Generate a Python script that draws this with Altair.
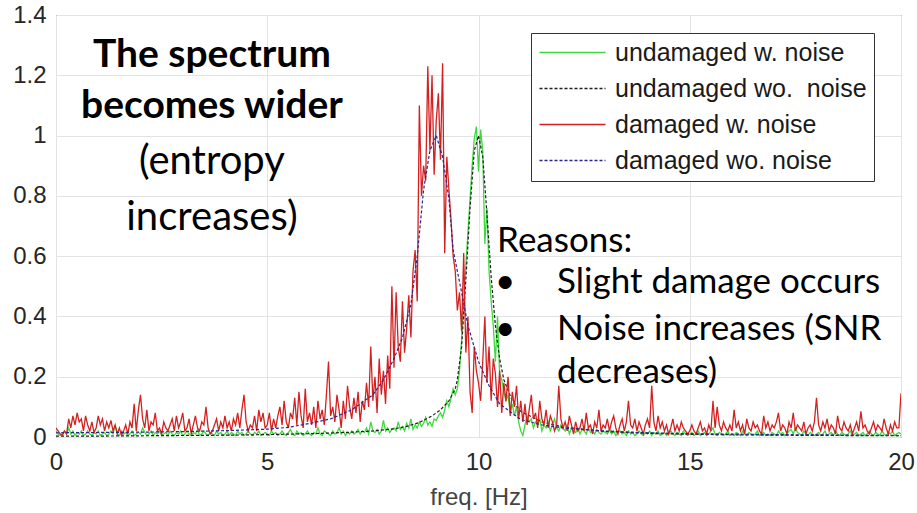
import altair as alt
import pandas as pd

# ---------------- data ----------------
FREQ_STEP = 0.05  # spacing of the noisy spectra (Hz)

damaged_noise = (
    [0.03,0.02,0.01,0.005,0.02,0.01,0.06,0.03,0.07,0.04,0.08,0.05,0.06,0.02,0.07,0.04,0.02,0.05,0.015,0.03]
    + [0.07,0.04,0.06,0.02,0.05,0.03,0.055,0.02,0.04,0.01,0.03,0.005,0.02,0.04,0.01,0.05,0.03,0.11,0.02,0.09]
    + [0.14,0.06,0.03,0.09,0.02,0.05,0.04,0.08,0.02,0.03,0.01,0.05,0.03,0.02,0.04,0.06,0.02,0.07,0.03,0.05]
    + [0.08,0.02,0.03,0.06,0.01,0.04,0.07,0.03,0.02,0.05,0.04,0.10,0.03,0.01,0.02,0.04,0.06,0.02,0.05,0.03]
    + [0.07,0.03,0.05,0.02,0.06,0.04,0.08,0.03,0.09,0.14,0.05,0.02,0.04,0.03,0.07,0.02,0.09,0.05,0.08,0.03]
    + [0.04,0.08,0.02,0.06,0.03,0.07,0.10,0.04,0.12,0.05,0.03,0.08,0.06,0.13,0.04,0.15,0.07,0.03,0.16,0.05]
    + [0.08,0.04,0.10,0.03,0.12,0.06,0.09,0.04,0.14,0.25,0.07,0.10,0.05,0.14,0.09,0.03,0.12,0.06,0.17,0.10]
    + [0.06,0.13,0.08,0.15,0.05,0.12,0.09,0.18,0.10,0.30,0.12,0.20,0.08,0.26,0.14,0.22,0.11,0.27,0.16,0.50]
    + [0.23,0.48,0.30,0.25,0.45,0.28,0.36,0.47,0.33,0.55,0.62,0.45,1.10,0.80,0.90,0.85,1.23,0.95,1.20,0.87]
    + [1.05,1.14,0.92,1.24,0.61,0.93,0.82,0.72,0.60,0.55,0.42,0.48,0.35,0.61,0.28,0.40,0.15,0.08,0.30,0.22]
    + [0.18,0.12,0.25,0.40,0.18,0.30,0.12,0.26,0.21,0.10,0.22,0.08,0.18,0.12,0.20,0.07,0.15,0.10,0.17,0.06]
    + [0.12,0.05,0.11,0.04,0.09,0.14,0.06,0.08,0.03,0.12,0.06,0.04,0.09,0.03,0.07,0.05,0.02,0.04,0.17,0.06]
    + [0.03,0.05,0.02,0.07,0.04,0.01,0.05,0.02,0.03,0.06,0.02,0.08,0.03,0.04,0.01,0.05,0.03,0.09,0.02,0.04]
    + [0.03,0.06,0.02,0.05,0.07,0.03,0.01,0.04,0.06,0.02,0.05,0.12,0.04,0.03,0.06,0.02,0.05,0.03,0.01,0.04]
    + [0.06,0.03,0.17,0.05,0.02,0.07,0.03,0.05,0.02,0.04,0.01,0.03,0.06,0.02,0.04,0.02,0.05,0.03,0.02,0.01]
    + [0.02,0.04,0.02,0.01,0.03,0.05,0.02,0.03,0.01,0.04,0.02,0.12,0.03,0.10,0.04,0.02,0.05,0.03,0.02,0.04]
    + [0.02,0.09,0.03,0.05,0.02,0.04,0.01,0.06,0.03,0.02,0.05,0.03,0.04,0.02,0.01,0.07,0.03,0.05,0.02,0.04]
    + [0.03,0.05,0.08,0.02,0.04,0.03,0.01,0.05,0.03,0.08,0.02,0.04,0.03,0.02,0.05,0.01,0.03,0.04,0.02,0.05]
    + [0.13,0.04,0.02,0.05,0.03,0.06,0.02,0.04,0.03,0.01,0.07,0.03,0.02,0.05,0.03,0.02,0.04,0.01,0.03,0.05]
    + [0.02,0.085,0.03,0.04,0.02,0.01,0.03,0.05,0.02,0.04,0.03,0.02,0.06,0.03,0.01,0.04,0.02,0.05,0.03,0.03]
    + [0.145]
)

undamaged_noise = (
    [0.02,0.01,0.005,0.01,0.02,0.01,0.03,0.01,0.02,0.005,0.015,0.01,0.02,0.005,0.01,0.02,0.01,0.005,0.015,0.01]
    + [0.02,0.005,0.01,0.015,0.005,0.01,0.02,0.01,0.04,0.01,0.005,0.02,0.01,0.015,0.005,0.01,0.02,0.005,0.01,0.015]
    + [0.01,0.03,0.015,0.005,0.01,0.02,0.005,0.015,0.01,0.02,0.005,0.01,0.015,0.005,0.02,0.01,0.005,0.015,0.01,0.02]
    + [0.005,0.01,0.02,0.01,0.005,0.015,0.01,0.025,0.005,0.01,0.02,0.01,0.005,0.015,0.01,0.005,0.02,0.01,0.015,0.005]
    + [0.01,0.02,0.005,0.015,0.01,0.005,0.02,0.01,0.015,0.005,0.01,0.02,0.01,0.005,0.015,0.01,0.02,0.005,0.01,0.015]
    + [0.01,0.005,0.02,0.01,0.015,0.005,0.01,0.02,0.01,0.005,0.015,0.025,0.01,0.005,0.02,0.01,0.015,0.005,0.01,0.02]
    + [0.01,0.005,0.015,0.01,0.03,0.01,0.005,0.02,0.015,0.01,0.005,0.02,0.01,0.015,0.03,0.01,0.02,0.005,0.015,0.01]
    + [0.02,0.01,0.015,0.025,0.01,0.02,0.015,0.03,0.01,0.05,0.02,0.015,0.025,0.01,0.02,0.055,0.02,0.03,0.015,0.025]
    + [0.03,0.02,0.05,0.025,0.035,0.02,0.045,0.03,0.06,0.025,0.04,0.03,0.05,0.035,0.045,0.065,0.04,0.05,0.035,0.06]
    + [0.055,0.07,0.08,0.065,0.09,0.12,0.10,0.13,0.16,0.14,0.16,0.22,0.32,0.45,0.57,0.68,0.79,0.90,0.99,1.03]
    + [0.88,1.02,0.95,0.64,0.76,0.55,0.45,0.37,0.25,0.40,0.21,0.19,0.15,0.12,0.14,0.08,0.11,0.07,0.10,0.05]
    + [0.02,0.005,0.04,0.07,0.05,0.06,0.03,0.05,0.04,0.06,0.02,0.04,0.03,0.05,0.02,0.04,0.06,0.03,0.02,0.04]
    + [0.03,0.02,0.04,0.01,0.03,0.02,0.015,0.03,0.01,0.025,0.02,0.01,0.03,0.015,0.02,0.01,0.025,0.015,0.01,0.02]
    + [0.015,0.01,0.025,0.01,0.02,0.005,0.015,0.02,0.01,0.015,0.005,0.02,0.01,0.015,0.005,0.01,0.02,0.01,0.005,0.015]
    + [0.01,0.02,0.005,0.015,0.01,0.02,0.005,0.01,0.015,0.005,0.01,0.02,0.01,0.005,0.015,0.01,0.005,0.02,0.01,0.005]
    + [0.01,0.015,0.005,0.01,0.02,0.005,0.01,0.015,0.005,0.01,0.02,0.03,0.01,0.005,0.015,0.01,0.005,0.01,0.02,0.005]
    + [0.01,0.005,0.015,0.01,0.005,0.02,0.01,0.005,0.015,0.01,0.005,0.01,0.02,0.005,0.01,0.015,0.005,0.01,0.005,0.015]
    + [0.01,0.005,0.02,0.01,0.015,0.005,0.01,0.02,0.025,0.01,0.03,0.015,0.01,0.005,0.02,0.01,0.005,0.015,0.01,0.005]
    + [0.01,0.015,0.005,0.01,0.02,0.005,0.01,0.015,0.005,0.02,0.01,0.005,0.015,0.01,0.005,0.01,0.02,0.005,0.01,0.015]
    + [0.005,0.01,0.015,0.005,0.01,0.02,0.01,0.005,0.015,0.01,0.005,0.02,0.01,0.005,0.015,0.01,0.02,0.005,0.01,0.015]
    + [0.01]
)

# noise-free spectra, read at selected frequencies
undamaged_clean_f = [0, 1, 2, 3, 4, 5, 6, 6.5, 7, 7.5, 8, 8.3, 8.6, 8.9, 9.1, 9.3, 9.45, 9.5, 9.6, 9.7,
                     9.8, 9.9, 10.0, 10.1, 10.2, 10.3, 10.4, 10.5, 10.6, 10.8, 11.0, 11.5, 12, 13, 14, 15, 17, 20]
undamaged_clean_a = [0.003, 0.003, 0.004, 0.005, 0.006, 0.008, 0.011, 0.013, 0.016, 0.02, 0.027, 0.035, 0.048,
                     0.07, 0.09, 0.12, 0.16, 0.19, 0.30, 0.52, 0.76, 0.95, 1.0, 0.93, 0.74, 0.53, 0.37, 0.26,
                     0.19, 0.12, 0.085, 0.05, 0.033, 0.018, 0.012, 0.009, 0.006, 0.004]

damaged_clean_f = [0, 1, 2, 3, 4, 5, 5.5, 6, 6.5, 7, 7.5, 7.75, 8, 8.2, 8.4, 8.55, 8.7, 8.85, 9.0, 9.15, 9.3,
                   9.4, 9.6, 9.75, 10.0, 10.25, 10.5, 11.0, 11.5, 12, 13, 14, 15, 17, 20]
damaged_clean_a = [0.014, 0.015, 0.016, 0.018, 0.021, 0.026, 0.032, 0.045, 0.06, 0.09, 0.14, 0.19, 0.26, 0.33,
                   0.44, 0.60, 0.82, 0.95, 1.0, 0.93, 0.79, 0.62, 0.48, 0.37, 0.25, 0.17, 0.11, 0.058, 0.04,
                   0.03, 0.02, 0.014, 0.011, 0.008, 0.005]

assert len(damaged_noise) == 401, len(damaged_noise)
assert len(undamaged_noise) == 401, len(undamaged_noise)

series_names = ["undamaged w. noise", "undamaged wo.\u00a0 noise", "damaged w. noise", "damaged wo. noise"]
series_colors = ["#3fd83f", "#1e1e1e", "#d42020", "#262690"]
series_dash = [[1, 0], [3, 2], [1, 0], [3, 2]]
series_width = [1.3, 1.2, 1.3, 1.2]

x_ticks = [0, 5, 10, 15, 20]
y_ticks = [0, 0.2, 0.4, 0.6, 0.8, 1.0, 1.2, 1.4]

noise_f = [round(i * FREQ_STEP, 2) for i in range(len(damaged_noise))]
series_data = [
    (series_names[0], noise_f, undamaged_noise),
    (series_names[1], undamaged_clean_f, undamaged_clean_a),
    (series_names[2], noise_f, damaged_noise),
    (series_names[3], damaged_clean_f, damaged_clean_a),
]
rows = []
for name, fs, amps in series_data:
    for f, a in zip(fs, amps):
        rows.append({"f": f, "a": a, "s": name})
df = pd.DataFrame(rows)

# annotations (positions in data units)
left_lines = ["The spectrum", "becomes wider", "(entropy", "increases)"]
left_y = [1.228, 1.058, 0.872, 0.687]
left_bold = [True, True, False, False]
left_x = 3.69

reason_title = "Reasons:"
reason_lines = ["Slight damage occurs", "Noise increases (SNR", "decreases)"]
reason_y = [0.477, 0.322, 0.178]
bullet_y = [0.477, 0.322]

# ---------------- chart ----------------
xscale = alt.Scale(domain=[0, 20], nice=False, zero=False)
yscale = alt.Scale(domain=[0, 1.4], nice=False)

legend = alt.Legend(
    title=None, orient="none", legendX=475, legendY=18,
    symbolType="M-1,0H5", symbolSize=484, symbolStrokeWidth=1.4,
    labelFont="Liberation Sans", labelFontSize=25, labelColor="#1a1a1a", labelLimit=500,
    labelOffset=52, rowPadding=10, padding=7,
    strokeColor="#333333", fillColor="white",
)

xenc = alt.X("f:Q", scale=xscale,
             axis=alt.Axis(values=x_ticks, title="freq. [Hz]", grid=True, domain=False, ticks=False,
                           labelFlush=False,
                           labelFont="Liberation Sans", labelFontSize=24, labelColor="#262626",
                           labelPadding=13, titleFont="Liberation Sans", titleFontSize=24,
                           titleFontWeight="normal", titleColor="#444444", titlePadding=11,
                           gridColor="#e3e3e3"))
yenc = alt.Y("a:Q", scale=yscale,
             axis=alt.Axis(values=y_ticks, title=None, format="~g", grid=True, domain=False, ticks=False,
                           labelFlush=False,
                           labelFont="Liberation Sans", labelFontSize=24, labelColor="#262626",
                           labelPadding=10, gridColor="#e3e3e3"))

base = alt.Chart(df)
layers = []
for name, w in zip(series_names, series_width):
    layers.append(
        base.transform_filter(alt.datum.s == name)
        .mark_line(strokeWidth=w, clip=True)
        .encode(
            x=xenc, y=yenc,
            color=alt.Color("s:N", scale=alt.Scale(domain=series_names, range=series_colors), legend=legend),
            strokeDash=alt.StrokeDash("s:N", scale=alt.Scale(domain=series_names, range=series_dash),
                                      legend=legend),
        )
    )

left_df = pd.DataFrame({"f": [left_x] * 4, "a": left_y, "t": left_lines, "b": left_bold})
left_bold_txt = alt.Chart(left_df[left_df.b]).mark_text(
    font="Lato", fontSize=39, fontWeight="bold", align="center", baseline="alphabetic", color="black"
).encode(x=alt.X("f:Q", scale=xscale), y=alt.Y("a:Q", scale=yscale), text="t:N")
left_reg_txt = alt.Chart(left_df[~left_df.b]).mark_text(
    font="Lato", fontSize=40, align="center", baseline="alphabetic", color="black"
).encode(x=alt.X("f:Q", scale=xscale), y=alt.Y("a:Q", scale=yscale), text="t:N")

reason_df = pd.DataFrame({"f": [10.44] + [11.86] * 3, "a": [0.614] + reason_y,
                          "t": [reason_title] + reason_lines})
reason_txt = alt.Chart(reason_df).mark_text(
    font="Lato", fontSize=35, align="left", baseline="alphabetic", color="black"
).encode(x=alt.X("f:Q", scale=xscale), y=alt.Y("a:Q", scale=yscale), text="t:N")

bullet_df = pd.DataFrame({"f": [10.63, 10.63], "a": bullet_y, "t": ["•", "•"]})
bullet_txt = alt.Chart(bullet_df).mark_text(
    font="Lato", fontSize=35, align="center", baseline="alphabetic", color="black"
).encode(x=alt.X("f:Q", scale=xscale), y=alt.Y("a:Q", scale=yscale), text="t:N")

chart = alt.layer(*layers, left_bold_txt, left_reg_txt, reason_txt, bullet_txt).properties(
    width=845, height=422,
    autosize=alt.AutoSizeParams(type="none"),
    padding={"left": 56, "top": 15, "right": 16, "bottom": 76},
    background="white",
).configure_view(stroke="#262626", strokeWidth=1)

chart.save("out.html", embed_options={"renderer": "svg", "actions": False})
